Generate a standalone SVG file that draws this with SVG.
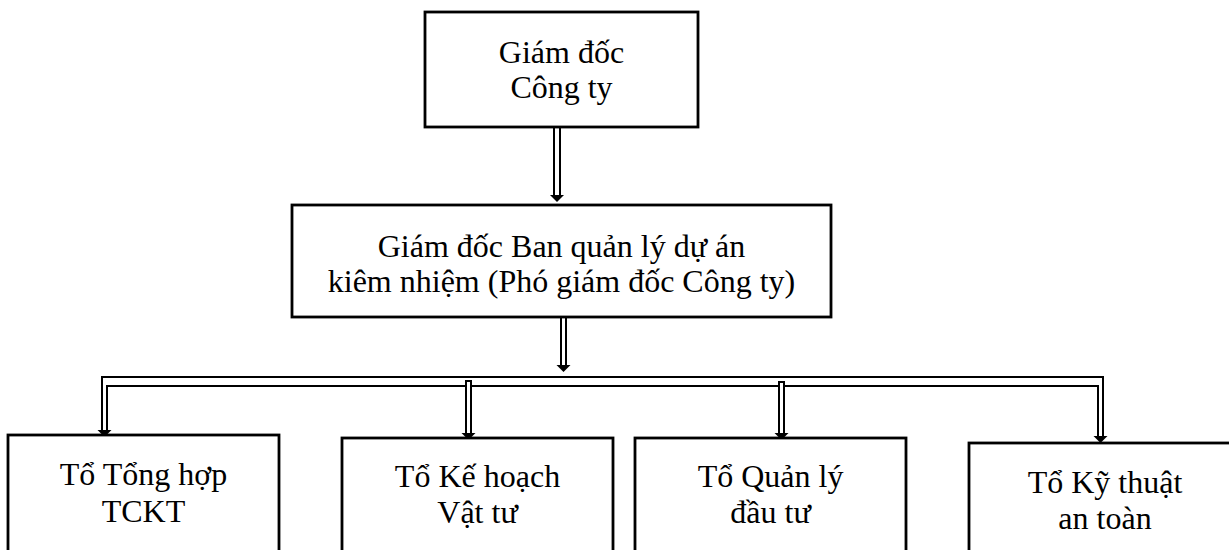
<svg xmlns="http://www.w3.org/2000/svg" width="1229" height="550" viewBox="0 0 1229 550">
<style>
.box{fill:#fff;stroke:#000;stroke-width:2.8}
.t{font-family:"Liberation Serif","Times New Roman",serif;font-size:32px;fill:#000;text-anchor:middle}
.ln{fill:none;stroke:#000;stroke-width:2}
.sh{fill:#fff;stroke:#000;stroke-width:2}
</style>
<defs>
<path id="head" d="M-7,-7 L7,-7 L0,0 Z" fill="#000"/>
</defs>
<rect width="1229" height="550" fill="#fff"/>
<g id="connectors">
<path class="sh" d="M554,127 V196 M560,127 V196"/>
<use href="#head" x="557" y="202"/>
<path class="sh" d="M561,318 V366 M566,318 V366"/>
<use href="#head" x="563.5" y="372"/>
<path class="ln" d="M102,432 V377 H1103 V437"/>
<path class="ln" d="M107,432 V386 H1098 V437"/>
<use href="#head" x="104.5" y="437"/>
<use href="#head" x="1100.5" y="443"/>
<path class="sh" d="M466,434 V381 H471 V434"/>
<use href="#head" x="468.5" y="440"/>
<path class="sh" d="M779,434 V382 H784 V434"/>
<use href="#head" x="781.5" y="440"/>
</g>
<g id="n-giamdoc">
<rect class="box" x="425" y="12" width="273" height="115"/>
<text class="t" x="561.5" y="63">Giám đốc</text>
<text class="t" x="561.5" y="98">Công ty</text>
</g>
<g id="n-banqlda">
<rect class="box" x="292" y="205" width="539" height="112"/>
<text class="t" x="561.5" y="257">Giám đốc Ban quản lý dự án</text>
<text class="t" x="561.5" y="292">kiêm nhiệm (Phó giám đốc Công ty)</text>
</g>
<g id="n-tonghop">
<rect class="box" x="8" y="435" width="271" height="130"/>
<text class="t" x="143.5" y="485">Tổ Tổng hợp</text>
<text class="t" x="143.5" y="522">TCKT</text>
</g>
<g id="n-kehoach">
<rect class="box" x="342" y="438" width="271" height="130"/>
<text class="t" x="477.5" y="487">Tổ Kế hoạch</text>
<text class="t" x="477.5" y="523">Vật tư</text>
</g>
<g id="n-quanly">
<rect class="box" x="635" y="438" width="271" height="130"/>
<text class="t" x="770.5" y="487">Tổ Quản lý</text>
<text class="t" x="770.5" y="523">đầu tư</text>
</g>
<g id="n-kythuat">
<rect class="box" x="969" y="443" width="272" height="130"/>
<text class="t" x="1105" y="493">Tổ Kỹ thuật</text>
<text class="t" x="1105" y="529">an toàn</text>
</g>
</svg>
